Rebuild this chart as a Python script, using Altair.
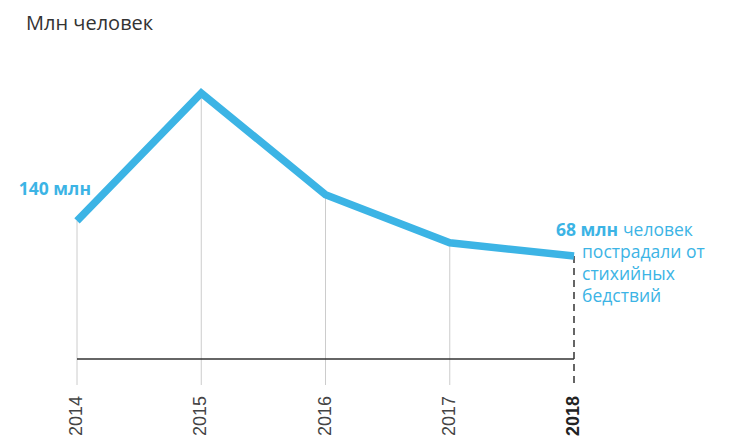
import altair as alt
import pandas as pd

years = [2014, 2015, 2016, 2017, 2018]
values = [140, 403, 194, 95, 68]
year_labels = ["2014", "2015", "2016", "2017", "2018"]
title_text = "Млн человек"
first_label = "140 млн"
last_bold = "68 млн"
last_regular = "человек"
last_lines = ["пострадали от", "стихийных", "бедствий"]

BLUE = "#3cb4e5"
df = pd.DataFrame({"year": years, "value": values, "label": year_labels})

x = alt.X("year:Q", scale=alt.Scale(domain=[2014, 2018], nice=False, zero=False), axis=None)
y = alt.Y("value:Q", scale=alt.Scale(domain=[-144, 471], nice=False, zero=False), axis=None)

base = alt.Chart(df)

grid = base.transform_filter("datum.year < 2018").mark_rule(color="#cccccc", strokeWidth=1).encode(
    x=x, y=y, y2=alt.value(325))
dash = base.transform_filter("datum.year == 2018").mark_rule(
    color="#333333", strokeWidth=1.5, strokeDash=[7, 5]).encode(x=x, y=y, y2=alt.value(325))

bl = alt.Chart(pd.DataFrame({"a": [years[0]], "b": [years[-1]]})).mark_rule(
    color="#333333", strokeWidth=1.5).encode(
    x=alt.X("a:Q", scale=alt.Scale(domain=[2014, 2018], nice=False, zero=False), axis=None),
    x2="b:Q", y=alt.value(299))

line = base.mark_line(color=BLUE, strokeWidth=7.5, strokeJoin="miter", strokeCap="butt").encode(x=x, y=y)

ticks = base.transform_filter("datum.year < 2018").mark_text(
    angle=270, align="right", baseline="middle", font="Liberation Sans", fontSize=18,
    color="#444444").encode(x=x, y=alt.value(336), text="label:N")
tick_b = base.transform_filter("datum.year == 2018").mark_text(
    angle=270, align="right", baseline="middle", font="Liberation Sans", fontSize=18,
    fontWeight="bold", color="#222222").encode(x=x, y=alt.value(336), text="label:N")

title = alt.Chart(pd.DataFrame({"t": [title_text]})).mark_text(
    align="left", baseline="alphabetic", font="Open Sans", fontSize=20, color="#333333").encode(
    x=alt.value(-51), y=alt.value(-30), text="t:N")

a1 = base.transform_filter("datum.year == 2014").mark_text(
    align="right", baseline="alphabetic", dx=14, dy=-26, font="Open Sans", fontSize=17.5,
    fontWeight="bold", color=BLUE).encode(x=x, y=y, text=alt.value(first_label))

a2 = base.transform_filter("datum.year == 2018").mark_text(
    align="left", baseline="alphabetic", dx=-18, dy=-20, font="Open Sans", fontSize=17.5,
    fontWeight="bold", color=BLUE).encode(x=x, y=y, text=alt.value(last_bold))
a3 = base.transform_filter("datum.year == 2018").mark_text(
    align="left", baseline="alphabetic", dx=49, dy=-20, font="Open Sans", fontSize=17.5,
    color=BLUE).encode(x=x, y=y, text=alt.value(last_regular))
a4 = base.transform_filter("datum.year == 2018").mark_text(
    align="left", baseline="alphabetic", dx=8, dy=2, font="Open Sans", fontSize=17.5,
    lineHeight=22, color=BLUE).encode(x=x, y=y, text=alt.value(last_lines))

chart = alt.layer(grid, dash, bl, line, ticks, tick_b, title, a1, a2, a3, a4).properties(
    width=497, height=299,
    padding={"left": 69, "top": 52, "right": 150, "bottom": 80},
    autosize=alt.AutoSizeParams(type="none"),
).configure_view(stroke=None)

chart.save("out.html", embed_options={"renderer": "svg", "actions": False})
